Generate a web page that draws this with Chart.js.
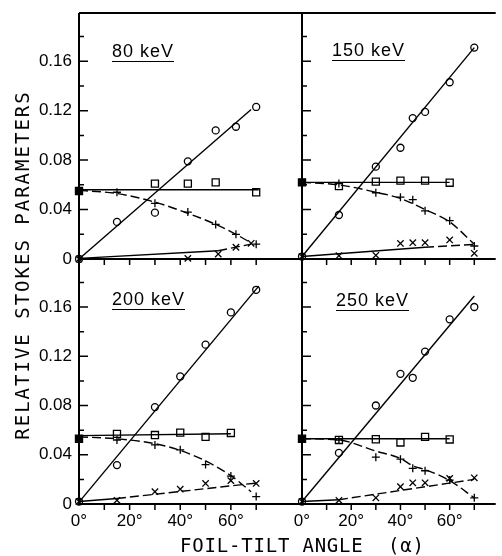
<!DOCTYPE html>
<html>
<head>
<meta charset="utf-8">
<script src="https://cdn.jsdelivr.net/npm/chart.js@4"></script>
<style>
  html, body { margin: 0; padding: 0; background: #fff; }
  #wrap { position: relative; width: 502px; height: 556px; overflow: hidden; font-family: "Liberation Sans", Arial, sans-serif; color: #000; }
  #wrap canvas { position: absolute; left: 0; top: 0; }
  .kev { position: absolute; font-size: 18px; line-height: 14px; letter-spacing: 1px; padding-bottom: 3px; border-bottom: 1.5px solid #000; white-space: pre; }
  .ytitle { position: absolute; left: -178px; top: 254px; width: 400px; height: 22px; line-height: 22px; font-family: "DejaVu Sans Mono", "Liberation Mono", monospace; font-size: 19px; letter-spacing: 2px; text-align: center; white-space: pre; transform: rotate(-90deg); }
  .xtitle { position: absolute; left: 180px; top: 535px; font-family: "DejaVu Sans Mono", "Liberation Mono", monospace; font-size: 19px; line-height: 20px; letter-spacing: 0.8px; white-space: pre; }
</style>
</head>
<body>
<div id="wrap">
  <canvas id="c80" width="502" height="556"></canvas>
  <canvas id="c150" width="502" height="556"></canvas>
  <canvas id="c200" width="502" height="556"></canvas>
  <canvas id="c250" width="502" height="556"></canvas>
  <div class="kev" style="left:112px; top:44px;">80 keV</div>
  <div class="kev" style="left:332px; top:43px;">150 keV</div>
  <div class="kev" style="left:112px; top:292px;">200 keV</div>
  <div class="kev" style="left:336px; top:293px;">250 keV</div>
  <div class="ytitle">RELATIVE STOKES PARAMETERS</div>
  <div class="xtitle">FOIL-TILT ANGLE  (α)</div>
</div>
<script>
const Y_MAX = 0.199;
const X_LABELS = [0, 20, 40, 60];

// 80 keV
const ang80 = [0, 15, 30, 43, 54, 62, 70];
const circ80 = [0, 0.030, 0.0375, 0.079, 0.104, 0.107, 0.123];
const sq80 = [0.055, null, 0.061, 0.061, 0.062, null, 0.054];
const plus80 = [0.055, 0.054, 0.045, 0.038, 0.028, 0.020, 0.012];
const crossAng80 = [0, 43, 55, 62, 68];
const cross80 = [0, 0.0005, 0.004, 0.0095, 0.0127];
const circFitAng80 = [0, 68], circFit80 = [0, 0.121];
const sqFitAng80 = [0, 71], sqFit80 = [0.056, 0.056];
const plusFitAng80 = [0, 15, 30, 43, 54, 62, 68];
const plusFit80 = [0.0555, 0.053, 0.046, 0.037, 0.028, 0.020, 0.013];
const crossFitAng80 = [0, 55, 68], crossFit80 = [0.0005, 0.0067, 0.012];

// 150 keV
const ang150 = [0, 15, 30, 40, 45, 50, 60, 70];
const circ150 = [0.002, 0.0356, 0.0747, 0.090, 0.114, 0.119, 0.143, 0.171];
const sq150 = [0.062, 0.059, 0.0626, 0.0634, null, 0.0634, 0.0617, null];
const plus150 = [0.062, 0.061, 0.0536, 0.050, 0.048, 0.039, 0.031, 0.0105];
const crossAng150 = ang150;
const cross150 = [0.002, 0.0027, 0.003, 0.0126, 0.0132, 0.0132, 0.0154, 0.0046];
const circFitAng150 = [0, 70], circFit150 = [0.002, 0.171];
const sqFitAng150 = [0, 60], sqFit150 = [0.062, 0.062];
const plusFitAng150 = [0, 15, 30, 40, 50, 60, 70];
const plusFit150 = [0.062, 0.060, 0.054, 0.049, 0.040, 0.030, 0.012];
const crossFitAng150 = [0, 50, 70], crossFit150 = [0.002, 0.0095, 0.0118];

// 200 keV
const ang200 = [0, 15, 30, 40, 50, 60, 70];
const circ200 = [0.002, 0.0316, 0.0787, 0.1036, 0.1294, 0.1556, 0.174];
const sq200 = [0.053, 0.057, 0.056, 0.058, 0.0545, 0.0577, null];
const plus200 = [0.0545, 0.052, 0.048, 0.044, 0.032, 0.0227, 0.006];
const crossAng200 = ang200;
const cross200 = [0.002, 0.003, 0.010, 0.012, 0.0167, 0.019, 0.0167];
const circFitAng200 = [0, 71], circFit200 = [0.0015, 0.177];
const sqFitAng200 = [0, 60], sqFit200 = [0.0555, 0.057];
const plusFitAng200 = [0, 15, 30, 40, 50, 60, 68];
const plusFit200 = [0.0545, 0.053, 0.049, 0.0435, 0.035, 0.023, 0.010];
const crossFitAng200 = [0, 15, 70], crossFit200 = [0.002, 0.0045, 0.017];

// 250 keV
const ang250 = [0, 15, 30, 40, 45, 50, 60, 70];
const circ250 = [0.002, 0.0415, 0.080, 0.1057, 0.1025, 0.1238, 0.150, 0.160];
const sq250 = [0.053, 0.052, 0.0526, 0.050, null, 0.0545, 0.0524, null];
const plus250 = [0.053, 0.052, 0.038, 0.0364, 0.029, 0.027, 0.0194, 0.005];
const crossAng250 = ang250;
const cross250 = [0.002, 0.003, 0.005, 0.014, 0.0172, 0.0172, 0.0208, 0.0213];
const circFitAng250 = [0, 70], circFit250 = [0.002, 0.169];
const sqFitAng250 = [0, 60], sqFit250 = [0.053, 0.053];
const plusFitAng250 = [0, 15, 30, 40, 45, 50, 60, 70];
const plusFit250 = [0.053, 0.052, 0.043, 0.037, 0.031, 0.028, 0.019, 0.005];
const crossFitAng250 = [0, 15, 70], crossFit250 = [0.002, 0.0035, 0.020];

const FONT = { family: '"Liberation Sans", Arial, sans-serif', size: 17 };

function pts(xs, ys) {
    return xs.map((x, i) => ({ x: x, y: ys[i] })).filter(p => p.y !== null);
}

function fitLine(xs, ys, extra) {
    return Object.assign({
        data: pts(xs, ys), showLine: true, pointRadius: 0,
        borderColor: '#000', borderWidth: 1.4, clip: false
    }, extra || {});
}

function marks(xs, ys, style, radius) {
    return {
        data: pts(xs, ys), showLine: false, pointStyle: style, pointRadius: radius,
        borderColor: '#000', pointBorderColor: '#000', pointBorderWidth: 1.3,
        backgroundColor: 'transparent',
        pointBackgroundColor: ctx => (style === 'rect' && ctx.raw && ctx.raw.x === 0) ? '#000' : 'transparent',
        clip: false
    };
}

// frame lines and inward / downward ticks
const framePlugin = {
    id: 'frame',
    afterDraw(chart, args, opts) {
        const ctx = chart.ctx, a = chart.chartArea;
        const x = chart.scales.x, y = chart.scales.y;
        ctx.save();
        ctx.strokeStyle = '#000';
        ctx.lineWidth = 2;
        ctx.beginPath();
        ctx.moveTo(a.left, a.top);
        ctx.lineTo(a.left, a.bottom);
        ctx.lineTo(a.right, a.bottom);
        if (opts.top) {
            ctx.moveTo(a.left, a.top);
            ctx.lineTo(a.right, a.top);
        }
        ctx.stroke();
        ctx.lineWidth = 1.5;
        ctx.beginPath();
        for (let k = 1; k <= 9; k++) {
            const py = y.getPixelForValue(k * 0.02);
            ctx.moveTo(a.left, py);
            ctx.lineTo(a.left + (k % 2 ? 5 : 9), py);
        }
        for (let d = 10; d <= 70; d += 10) {
            const px = x.getPixelForValue(d);
            ctx.moveTo(px, a.bottom);
            ctx.lineTo(px, a.bottom + 6);
        }
        ctx.stroke();
        ctx.restore();
    }
};

function makePanel(id, p) {
    new Chart(document.getElementById(id), {
        type: 'scatter',
        data: {
            datasets: [
                fitLine(p.circFitAng, p.circFit),
                fitLine(p.sqFitAng, p.sqFit),
                fitLine(p.plusFitAng, p.plusFit, { borderDash: [9, 4], cubicInterpolationMode: 'monotone' }),
                fitLine(p.crossFitAng, p.crossFit, {
                    segment: { borderDash: c => c.p0DataIndex >= 1 ? [9, 4] : undefined }
                }),
                marks(p.ang, p.circ, 'circle', 3.5),
                marks(p.ang, p.sq, 'rect', 5),
                marks(p.ang, p.plus, 'cross', 4),
                marks(p.crossAng, p.cross, 'crossRot', 4.5)
            ]
        },
        options: {
            responsive: false,
            animation: false,
            layout: { padding: p.pad },
            plugins: { legend: { display: false }, tooltip: { enabled: false }, frame: { top: p.top } },
            scales: {
                x: {
                    type: 'linear', min: 0, max: p.xmax,
                    afterFit: s => { s.height = p.xh; s.paddingLeft = 0; s.paddingRight = 0; },
                    grid: { display: false, drawTicks: false },
                    border: { display: false },
                    ticks: {
                        display: p.showX, stepSize: 10, autoSkip: false, maxRotation: 0,
                        padding: 7, color: '#000', font: FONT,
                        callback: v => X_LABELS.includes(v) ? v + '°' : ''
                    }
                },
                y: {
                    min: 0, max: Y_MAX,
                    afterFit: s => { s.width = p.yw; s.paddingTop = 0; s.paddingBottom = 0; },
                    grid: { display: false, drawTicks: false },
                    border: { display: false },
                    ticks: {
                        display: p.showY, stepSize: 0.02, autoSkip: false, padding: 7,
                        color: '#000', font: FONT,
                        callback: v => {
                            const r = Math.round(v * 100);
                            if (Math.abs(v * 100 - r) > 0.01 || r % 4 !== 0) return '';
                            return r === 0 ? '0' : (r / 100).toFixed(2);
                        }
                    }
                }
            }
        },
        plugins: [framePlugin]
    });
}

makePanel('c80', {
    ang: ang80, circ: circ80, sq: sq80, plus: plus80, crossAng: crossAng80, cross: cross80,
    circFitAng: circFitAng80, circFit: circFit80, sqFitAng: sqFitAng80, sqFit: sqFit80,
    plusFitAng: plusFitAng80, plusFit: plusFit80, crossFitAng: crossFitAng80, crossFit: crossFit80,
    pad: { left: 0, top: 13, right: 200, bottom: 297 }, yw: 79, xh: 0, xmax: 88.1,
    showX: false, showY: true, top: true
});
makePanel('c150', {
    ang: ang150, circ: circ150, sq: sq150, plus: plus150, crossAng: crossAng150, cross: cross150,
    circFitAng: circFitAng150, circFit: circFit150, sqFitAng: sqFitAng150, sqFit: sqFit150,
    plusFitAng: plusFitAng150, plusFit: plusFit150, crossFitAng: crossFitAng150, crossFit: crossFit150,
    pad: { left: 282, top: 13, right: 0, bottom: 297 }, yw: 20, xh: 0, xmax: 78.7,
    showX: false, showY: false, top: true
});
makePanel('c200', {
    ang: ang200, circ: circ200, sq: sq200, plus: plus200, crossAng: crossAng200, cross: cross200,
    circFitAng: circFitAng200, circFit: circFit200, sqFitAng: sqFitAng200, sqFit: sqFit200,
    plusFitAng: plusFitAng200, plusFit: plusFit200, crossFitAng: crossFitAng200, crossFit: crossFit200,
    pad: { left: 0, top: 259, right: 200, bottom: 0 }, yw: 79, xh: 52, xmax: 88.1,
    showX: true, showY: true, top: false
});
makePanel('c250', {
    ang: ang250, circ: circ250, sq: sq250, plus: plus250, crossAng: crossAng250, cross: cross250,
    circFitAng: circFitAng250, circFit: circFit250, sqFitAng: sqFitAng250, sqFit: sqFit250,
    plusFitAng: plusFitAng250, plusFit: plusFit250, crossFitAng: crossFitAng250, crossFit: crossFit250,
    pad: { left: 282, top: 259, right: 0, bottom: 0 }, yw: 20, xh: 52, xmax: 78.7,
    showX: true, showY: false, top: false
});
</script>
</body>
</html>
